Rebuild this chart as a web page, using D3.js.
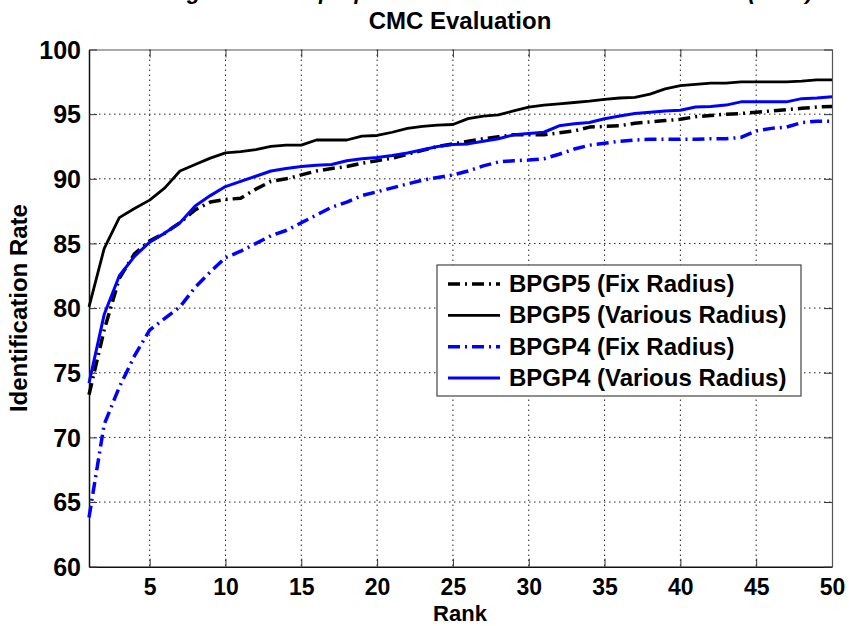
<!DOCTYPE html>
<html>
<head>
<meta charset="utf-8">
<style>
body { margin:0; background:#fff; }
text { font-family: "Liberation Sans", Arial, sans-serif; }
</style>
</head>
<body>
<svg id="chart"></svg>
<script src="https://cdn.jsdelivr.net/npm/d3@7/dist/d3.min.js"></script>
<script>

// ranks 1..50 on the x axis
var ranks = d3.range(1, 51);

var bpgp5Fix = [73.3, 78.3, 82.3, 84.2, 85.2, 85.8, 86.6, 87.6, 88.2, 88.4,
  88.5, 89.2, 89.8, 90.0, 90.3, 90.6, 90.8, 90.95, 91.2, 91.4,
  91.6, 91.9, 92.2, 92.5, 92.7, 92.9, 93.1, 93.25, 93.4, 93.4,
  93.4, 93.55, 93.7, 94.0, 94.05, 94.1, 94.3, 94.4, 94.5, 94.6,
  94.8, 94.9, 95.0, 95.05, 95.15, 95.25, 95.35, 95.45, 95.55, 95.6];

var bpgp5Var = [80.1, 84.6, 87.0, 87.7, 88.35, 89.3, 90.6, 91.1, 91.6, 92.0,
  92.1, 92.25, 92.5, 92.6, 92.6, 93.0, 93.0, 93.0, 93.3, 93.35,
  93.6, 93.9, 94.05, 94.15, 94.2, 94.65, 94.85, 94.95, 95.25, 95.55,
  95.7, 95.8, 95.9, 96.0, 96.15, 96.25, 96.3, 96.55, 96.95, 97.2,
  97.3, 97.4, 97.4, 97.5, 97.5, 97.5, 97.5, 97.55, 97.65, 97.65];

var bpgp4Fix = [63.8, 71.0, 73.9, 76.3, 78.3, 79.2, 80.1, 81.6, 82.8, 83.9,
  84.4, 85.0, 85.6, 86.0, 86.6, 87.2, 87.8, 88.2, 88.7, 89.0,
  89.3, 89.6, 89.9, 90.1, 90.3, 90.6, 91.0, 91.3, 91.4, 91.45,
  91.55, 91.9, 92.3, 92.6, 92.75, 92.9, 93.0, 93.05, 93.05, 93.05,
  93.05, 93.1, 93.1, 93.2, 93.7, 93.9, 94.0, 94.35, 94.45, 94.45];

var bpgp4Var = [74.2, 79.5, 82.5, 84.0, 85.1, 85.8, 86.6, 87.9, 88.7, 89.4,
  89.8, 90.2, 90.6, 90.8, 90.95, 91.05, 91.1, 91.4, 91.55, 91.65,
  91.8, 92.0, 92.25, 92.5, 92.65, 92.7, 92.9, 93.1, 93.4, 93.5,
  93.6, 94.1, 94.25, 94.35, 94.65, 94.85, 95.05, 95.15, 95.25, 95.3,
  95.55, 95.6, 95.7, 95.95, 95.95, 95.95, 95.95, 96.2, 96.25, 96.35];

var seriesNames = ["BPGP5 (Fix Radius)", "BPGP5 (Various Radius)", "BPGP4 (Fix Radius)", "BPGP4 (Various Radius)"];
var seriesValues = [bpgp5Fix, bpgp5Var, bpgp4Fix, bpgp4Var];
var seriesColors = ["#000000", "#000000", "#0000ff", "#0000ff"];
var seriesDash = ["12,5,2,5", null, "12,5,2,5", null];
var seriesWidth = [3.5, 2.8, 3.5, 3];

var xTicks = [5, 10, 15, 20, 25, 30, 35, 40, 45, 50];
var yTicks = [60, 65, 70, 75, 80, 85, 90, 95, 100];

var W = 849, H = 626;
// plot box (note: "top" is reserved on window, so use px* names)
var pxL = 89, pxT = 49.5, pxR = 832, pxB = 566.7;

var svg = d3.select("#chart").attr("width", W).attr("height", H);

svg.append("rect").attr("width", W).attr("height", H).attr("fill", "#fff");

// cut-off caption line from the page above the figure
svg.append("text")
  .attr("x", 104).attr("y", -1)
  .attr("font-family", "Liberation Serif")
  .attr("font-style", "italic").attr("font-weight", "bold")
  .attr("font-size", 22)
  .text("Matching rate of the proposed method at each rank");
svg.append("text")
  .attr("x", 748).attr("y", -1)
  .attr("font-family", "Liberation Serif")
  .attr("font-style", "italic").attr("font-weight", "bold")
  .attr("font-size", 22)
  .text("(CMC) .");

var x = d3.scaleLinear().domain([1, 50]).range([pxL, pxR]);
var y = d3.scaleLinear().domain([60, 100]).range([pxB, pxT]);

// grid
svg.append("g").selectAll("line").data(xTicks.filter(function(d) { return d < 50; }))
  .enter().append("line")
  .attr("x1", function(d) { return x(d); }).attr("x2", function(d) { return x(d); })
  .attr("y1", pxT).attr("y2", pxB)
  .attr("stroke", "#222").attr("stroke-width", 1).attr("stroke-dasharray", "1.5,3.5");

svg.append("g").selectAll("line").data(yTicks.filter(function(d) { return d > 60 && d < 100; }))
  .enter().append("line")
  .attr("y1", function(d) { return y(d); }).attr("y2", function(d) { return y(d); })
  .attr("x1", pxL).attr("x2", pxR)
  .attr("stroke", "#222").attr("stroke-width", 1).attr("stroke-dasharray", "1.5,3.5");

// axes (ticks point inward like matlab)
var xAxis = svg.append("g").attr("transform", "translate(0," + pxB + ")")
  .call(d3.axisBottom(x).tickValues(xTicks).tickSizeInner(-8).tickSizeOuter(0).tickPadding(12));
var xAxisTop = svg.append("g").attr("transform", "translate(0," + pxT + ")")
  .call(d3.axisTop(x).tickValues(xTicks).tickSizeInner(-8).tickSizeOuter(0).tickFormat(""));
var yAxis = svg.append("g").attr("transform", "translate(" + pxL + ",0)")
  .call(d3.axisLeft(y).tickValues(yTicks).tickSizeInner(-8).tickSizeOuter(0).tickPadding(8));
var yAxisRight = svg.append("g").attr("transform", "translate(" + pxR + ",0)")
  .call(d3.axisRight(y).tickValues(yTicks).tickSizeInner(-8).tickSizeOuter(0).tickFormat(""));

[xAxis, xAxisTop, yAxis, yAxisRight].forEach(function(a) {
  a.selectAll(".tick line").attr("stroke", "#333");
  a.select(".domain").attr("stroke", "#555").attr("stroke-width", 1.2);
  a.selectAll("text")
    .attr("font-family", "Liberation Sans, Arial, sans-serif")
    .attr("font-weight", "bold").attr("font-size", 23).attr("fill", "#000");
});
xAxis.select(".domain").attr("stroke", "#111").attr("stroke-width", 1.5);
yAxis.select(".domain").attr("stroke", "#111").attr("stroke-width", 1.5);
yAxis.selectAll("text").attr("font-size", 25).attr("dy", "0.35em");

// curves
var line = d3.line()
  .x(function(d) { return x(d[0]); })
  .y(function(d) { return y(d[1]); });

var order = [2, 0, 3, 1];
order.forEach(function(i) {
  var pts = ranks.map(function(r, k) { return [r, seriesValues[i][k]]; });
  svg.append("path")
    .attr("d", line(pts))
    .attr("fill", "none")
    .attr("stroke", seriesColors[i])
    .attr("stroke-width", seriesWidth[i])
    .attr("stroke-linejoin", "round")
    .attr("stroke-dasharray", seriesDash[i]);
});

// title and axis labels
svg.append("text").attr("x", 460).attr("y", 29).attr("text-anchor", "middle")
  .attr("font-weight", "bold").attr("font-size", 24).text("CMC Evaluation");
svg.append("text").attr("x", 460).attr("y", 621).attr("text-anchor", "middle")
  .attr("font-weight", "bold").attr("font-size", 22).text("Rank");
svg.append("text").attr("transform", "translate(27," + ((pxT + pxB) / 2) + ") rotate(-90)")
  .attr("text-anchor", "middle")
  .attr("font-weight", "bold").attr("font-size", 24).text("Identification Rate");

// legend
var lg = svg.append("g");
lg.append("rect").attr("x", 437).attr("y", 265).attr("width", 364).attr("height", 131)
  .attr("fill", "#fff").attr("stroke", "#444").attr("stroke-width", 1.2);
var rowY = d3.scalePoint().domain(d3.range(4)).range([284, 378]);
seriesNames.forEach(function(name, i) {
  lg.append("line").attr("x1", 448).attr("x2", 500)
    .attr("y1", rowY(i)).attr("y2", rowY(i))
    .attr("stroke", seriesColors[i]).attr("stroke-width", seriesWidth[i])
    .attr("stroke-dasharray", seriesDash[i]);
  lg.append("text").attr("x", 509).attr("y", rowY(i) + 8)
    .attr("font-weight", "bold").attr("font-size", 24).text(name);
});

</script>
</body>
</html>
